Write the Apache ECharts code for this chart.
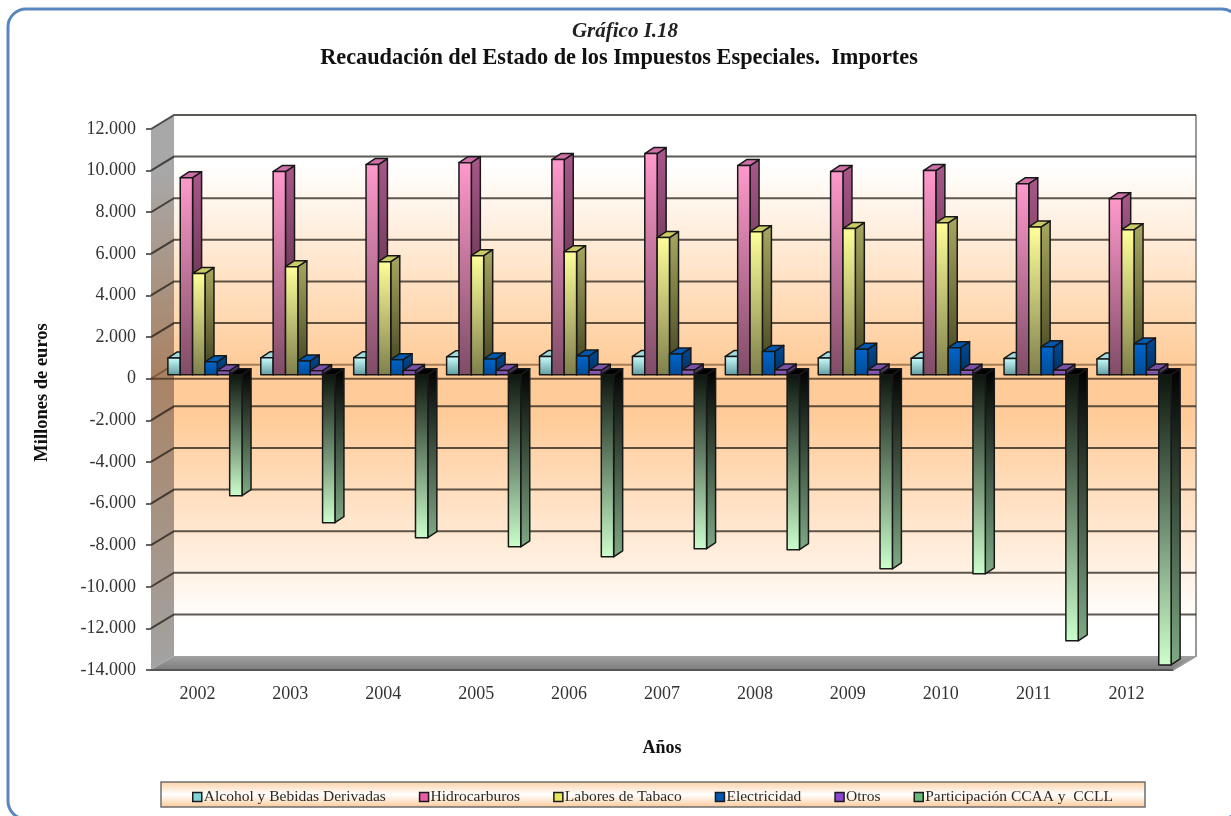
<!DOCTYPE html>
<html>
<head>
<meta charset="utf-8">
<title>Gráfico I.18</title>
<script src="https://cdn.jsdelivr.net/npm/echarts@6/dist/echarts.min.js"></script>
<style>
html, body { margin: 0; padding: 0; background: #fff; }
#chart { width: 1231px; height: 816px; filter: blur(0.6px); }
</style>
</head>
<body>
<div id="chart"></div>
<script>
const years = ['2002', '2003', '2004', '2005', '2006', '2007', '2008', '2009', '2010', '2011', '2012']
const yTicks = [12000, 10000, 8000, 6000, 4000, 2000, 0, -2000, -4000, -6000, -8000, -10000, -12000, -14000]

const alcohol = [800, 810, 820, 860, 880, 880, 880, 800, 790, 780, 760]
const hidrocarburos = [9470, 9760, 10100, 10190, 10340, 10625, 10050, 9760, 9810, 9180, 8460]
const tabaco = [4860, 5190, 5430, 5720, 5910, 6590, 6875, 7020, 7300, 7100, 6970]
const electricidad = [620, 660, 720, 760, 900, 1000, 1120, 1220, 1300, 1340, 1480]
const otros = [190, 190, 200, 200, 210, 220, 220, 220, 210, 210, 220]
const participacion = [-5817, -7115, -7836, -8270, -8750, -8365, -8413, -9327, -9567, -12790, -13950]

const font = '"Liberation Serif", serif'
const chart = echarts.init(document.getElementById('chart'))

// profundidad de la caja 3D y de las columnas, en pixeles
const DX = 23
const DY = 14
const BAR_SHIFT = 7.5
const BAR_DX = 9
const BAR_DY = 6

function vGrad(stops) {
  return new echarts.graphic.LinearGradient(0, 0, 0, 1, stops.map((c, i) => ({ offset: i / (stops.length - 1), color: c })))
}

function renderBox(params, api) {
  const x0 = params.coordSys.x
  const x1 = x0 + params.coordSys.width
  const yTop = api.coord([0, 12000])[1]
  const yZero = api.coord([0, 0])[1]
  const yBot = api.coord([0, -14000])[1]
  const zeroAt = (yZero - yTop) / (yBot - yTop)
  const poly = (points, fill) => ({ type: 'polygon', shape: { points }, style: { fill } })
  return {
    type: 'group',
    children: [
      poly([[x0 + DX, yTop - DY], [x1 + DX, yTop - DY], [x1 + DX, yBot - DY], [x0 + DX, yBot - DY]],
        new echarts.graphic.LinearGradient(0, 0, 0, 1, [
          { offset: 0, color: '#ffffff' },
          { offset: 0.09, color: '#ffffff' },
          { offset: zeroAt, color: '#ffcc99' },
          { offset: 0.56, color: '#ffcc99' },
          { offset: 0.94, color: '#ffffff' },
          { offset: 1, color: '#ffffff' }
        ])),
      poly([[x0, yTop], [x0 + DX, yTop - DY], [x0 + DX, yBot - DY], [x0, yBot]],
        new echarts.graphic.LinearGradient(0, 0, 0, 1, [
          { offset: 0, color: '#a8a8a8' },
          { offset: 0.1, color: '#a8a8a8' },
          { offset: zeroAt, color: '#aa8364' },
          { offset: 1, color: '#a3a3a3' }
        ])),
      poly([[x0, yBot], [x1, yBot], [x1 + DX, yBot - DY], [x0 + DX, yBot - DY]], vGrad(['#a2a2a2', '#7c7c7c'])),
      { type: 'polyline', shape: { points: [[x1 + DX, yTop - DY], [x1 + DX, yBot - DY], [x1, yBot]] },
        style: { fill: 'none', stroke: '#999999', lineWidth: 2 } }
    ]
  }
}

function renderGridLine(params, api) {
  const x0 = params.coordSys.x
  const x1 = x0 + params.coordSys.width
  const tick = api.value(1)
  const y = api.coord([0, tick])[1]
  if (tick === -14000) {
    return { type: 'line', shape: { x1: x0, y1: y, x2: x1, y2: y }, style: { stroke: '#555555', lineWidth: 2 } }
  }
  const stroke = tick === 0 ? 'rgba(90,60,35,0.55)' : 'rgba(30,25,20,0.72)'
  const children = [
    { type: 'polyline', shape: { points: [[x0, y], [x0 + DX, y - DY], [x1 + DX, y - DY]] },
      style: { fill: 'none', stroke, lineWidth: 2 } }
  ]
  if (tick === 0) {
    children.push({ type: 'line', shape: { x1: x0, y1: y, x2: x1, y2: y }, style: { stroke: 'rgba(70,45,25,0.75)', lineWidth: 2 } })
  }
  return { type: 'group', children }
}

// cada columna: cara frontal, lateral y superior; slot es la posicion dentro del grupo
function makeBarRenderer(slot, front, side, topColor) {
  return function (params, api) {
    const val = api.value(1)
    const base = api.coord([api.value(0), 0])
    const end = api.coord([api.value(0), val])
    const w = api.size([1, 0])[0] * 0.133
    const x = base[0] + BAR_SHIFT + (slot - 3) * w
    const yA = Math.min(base[1], end[1]) - 4
    const yB = Math.max(base[1], end[1]) - 4
    const edge = { stroke: '#181818', lineWidth: 1.5, lineJoin: 'round' }
    const face = (points, fill) => ({ type: 'polygon', shape: { points }, style: Object.assign({ fill }, edge) })
    return {
      type: 'group',
      children: [
        face([[x + w, yA], [x + w + BAR_DX, yA - BAR_DY], [x + w + BAR_DX, yB - BAR_DY], [x + w, yB]], vGrad(side)),
        face([[x, yA], [x + BAR_DX, yA - BAR_DY], [x + w + BAR_DX, yA - BAR_DY], [x + w, yA]], topColor),
        face([[x, yA], [x + w, yA], [x + w, yB], [x, yB]], vGrad(front))
      ]
    }
  }
}

function barSeries(name, values, slot, swatch, front, side, topColor) {
  return {
    type: 'custom',
    name,
    data: values.map((v, i) => [i, v]),
    encode: { x: 0, y: 1 },
    clip: false,
    silent: true,
    itemStyle: { color: swatch },
    renderItem: makeBarRenderer(slot, front, side, topColor)
  }
}

const seriesNames = ['Alcohol y Bebidas Derivadas', 'Hidrocarburos', 'Labores de Tabaco', 'Electricidad', 'Otros', 'Participación CCAA y  CCLL']

chart.setOption({
  animation: false,
  backgroundColor: '#ffffff',
  textStyle: { fontFamily: font },
  title: [
    { text: 'Gráfico I.18', left: 620, top: 16, textAlign: 'center',
      textStyle: { fontFamily: font, fontSize: 21, fontStyle: 'italic', fontWeight: 'bold', color: '#222' } },
    { text: 'Recaudación del Estado de los Impuestos Especiales.  Importes', left: 614, top: 42, textAlign: 'center',
      textStyle: { fontFamily: font, fontSize: 22.3, fontWeight: 'bold', color: '#111' } }
  ],
  graphic: [
    { type: 'rect', silent: true, z: -1, shape: { x: 8, y: 9, width: 1232, height: 810, r: 18 },
      style: { fill: 'none', stroke: '#5a86bf', lineWidth: 3 } },
    { type: 'rect', silent: true, z: -1, shape: { x: 161, y: 782, width: 984, height: 25 },
      style: { stroke: '#6e6e6e', lineWidth: 1.5,
        fill: new echarts.graphic.LinearGradient(0, 0, 0, 1, [
          { offset: 0, color: '#fdd0a2' }, { offset: 0.5, color: '#ffffff' }, { offset: 1, color: '#fdc896' }
        ]) } }
  ],
  legend: {
    left: 187,
    top: 784,
    itemWidth: 9,
    itemHeight: 9,
    itemGap: 33,
    icon: 'rect',
    selectedMode: false,
    data: seriesNames,
    itemStyle: { borderColor: '#1a1a1a', borderWidth: 1.5 },
    textStyle: { fontFamily: font, fontSize: 15.5, color: '#2a2a2a', padding: [0, 0, 0, -3] }
  },
  grid: { left: 151, right: 58, top: 129, bottom: 146 },
  xAxis: {
    type: 'category',
    data: years,
    name: 'Años',
    nameLocation: 'middle',
    nameGap: 69,
    nameTextStyle: { fontFamily: font, fontSize: 18, fontWeight: 'bold', color: '#111' },
    axisLine: { onZero: false, lineStyle: { color: '#444', width: 1 } },
    axisTick: { show: false },
    axisLabel: { fontFamily: font, fontSize: 18, color: '#333', margin: 15 }
  },
  yAxis: {
    type: 'value',
    min: -14000,
    max: 12000,
    interval: 2000,
    name: 'Millones de euros',
    nameLocation: 'middle',
    nameGap: 87,
    nameTextStyle: { fontFamily: font, fontSize: 18.5, fontWeight: 'bold', color: '#111', padding: [0, 0, 12, 14] },
    axisLine: { show: false },
    axisTick: { show: true, length: 5, lineStyle: { color: '#333', width: 1.5 } },
    splitLine: { show: false },
    axisLabel: {
      fontFamily: font,
      fontSize: 18,
      color: '#333',
      margin: 15,
      formatter: v => String(v).replace(/\B(?=(\d{3})+$)/g, '.')
    }
  },
  series: [
    { type: 'custom', name: 'caja', silent: true, clip: false, data: [[0, 0]], encode: { x: 0, y: 1 }, renderItem: renderBox },
    { type: 'custom', name: 'rejilla', silent: true, clip: false, data: yTicks.map(t => [0, t]), encode: { x: 0, y: 1 }, renderItem: renderGridLine },
    barSeries(seriesNames[0], alcohol, 0, '#7fd3d8', ['#ccffff', '#5f9a9f'], ['#8fc0c4', '#3c6468'], '#9fdce0'),
    barSeries(seriesNames[1], hidrocarburos, 1, '#e85ba5', ['#ff99cc', '#7f4c66'], ['#a8588a', '#40202f'], '#d070a8'),
    barSeries(seriesNames[2], tabaco, 2, '#e6e65a', ['#ffff99', '#7f7f4c'], ['#a8a860', '#40401f'], '#cccc66'),
    barSeries(seriesNames[3], electricidad, 3, '#0058b0', ['#0066cc', '#004c99'], ['#004c99', '#003060'], '#0058b0'),
    barSeries(seriesNames[4], otros, 4, '#8a46cc', ['#9966cc', '#6a4490'], ['#6a4490', '#402a58'], '#7a50a8'),
    barSeries(seriesNames[5], participacion, 5, '#66bb77', ['#0c140e', '#ccffcc'], ['#000000', '#7faa85'], '#000000')
  ]
})
</script>
</body>
</html>
